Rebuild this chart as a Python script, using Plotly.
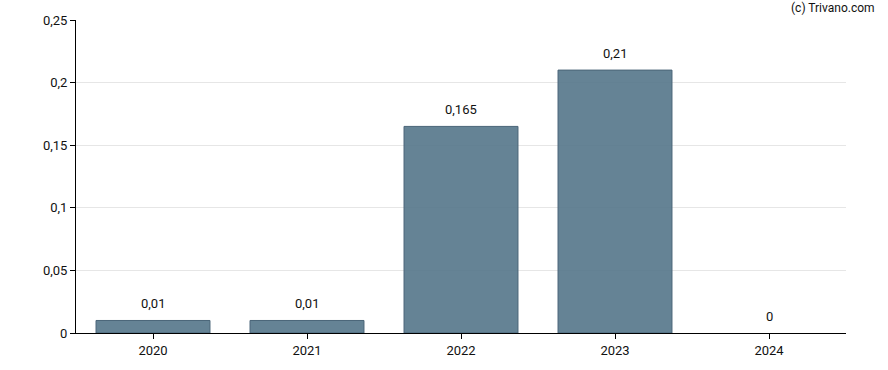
import plotly.graph_objects as go

years = ["2020", "2021", "2022", "2023", "2024"]
values = [0.01, 0.01, 0.165, 0.21, 0]
labels = ["0,01", "0,01", "0,165", "0,21", "0"]
y_ticks = [0, 0.05, 0.1, 0.15, 0.2, 0.25]
y_tick_labels = ["0", "0,05", "0,1", "0,15", "0,2", "0,25"]

fig = go.Figure()
fig.add_trace(go.Bar(
    x=years, y=values,
    marker=dict(color="rgba(88,120,140,0.92)",
                line=dict(color="#4a6478", width=[1 if v > 0 else 0 for v in values])),
    hoverinfo="skip",
))
# category axis: annotate by category index (numeric-looking year strings would be read as numbers)
for i, (v, t) in enumerate(zip(values, labels)):
    fig.add_annotation(x=i, y=v, xref="x", yref="y", text=t, showarrow=False,
                       yanchor="middle", yshift=17,
                       font=dict(family="Roboto", size=13, color="#111"))
fig.add_annotation(xref="paper", yref="paper", x=(877 - 76) / 770, y=1.0, yshift=12,
                   xanchor="right", yanchor="middle",
                   text="(c) Trivano.com", showarrow=False,
                   font=dict(family="Roboto", size=12, color="#111"))

fig.update_layout(
    width=888, height=370,
    margin=dict(l=76, r=42, t=20, b=35),
    paper_bgcolor="white", plot_bgcolor="white",
    showlegend=False, bargap=0.26,
    font=dict(family="Roboto", size=13, color="#111"),
    xaxis=dict(type="category", categoryorder="array", categoryarray=years,
               range=[-0.5, len(years) - 0.5],
               showline=True, linecolor="black", linewidth=1, ticks="outside",
               ticklen=5, tickcolor="black", showgrid=False, fixedrange=True),
    yaxis=dict(range=[0, 0.25], tickvals=y_ticks, ticktext=y_tick_labels, showline=True,
               linecolor="black", linewidth=1, ticks="outside", ticklen=5, tickcolor="black",
               showgrid=True, gridcolor="#e6e6e6", zeroline=False, fixedrange=True),
)
fig.write_html("out.html", config={"displayModeBar": False},
               post_script="document.body.style.margin='0';")
